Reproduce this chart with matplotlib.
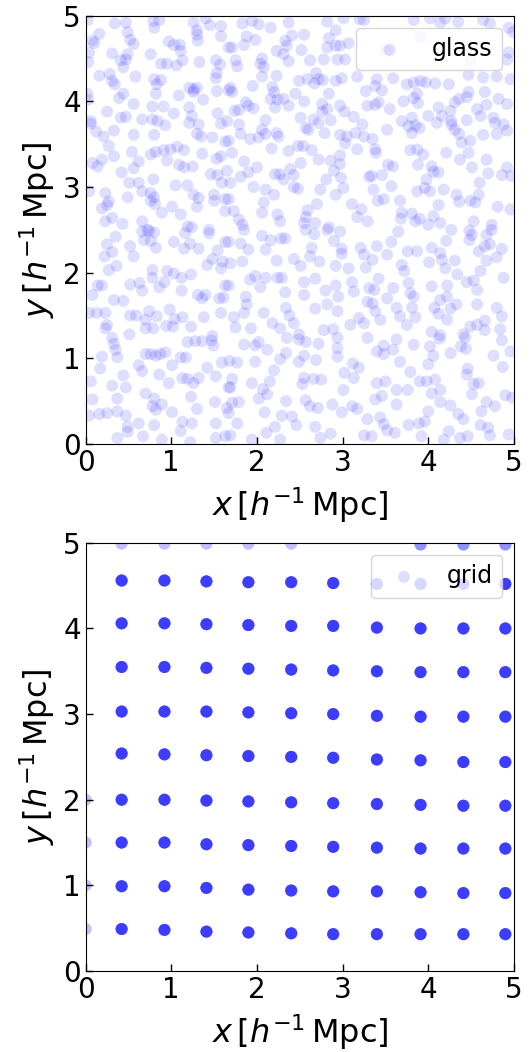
import numpy as np
import matplotlib.pyplot as plt

# glass particle positions (x, y) in h^-1 Mpc
glass_xy = [
    (0.02, 4.95), (0.34, 4.91), (0.47, 4.92), (0.79, 4.94), (0.86, 4.95), (0.80, 4.86),
    (1.26, 4.92), (1.40, 4.97), (1.45, 4.89), (1.58, 4.88), (0.16, 4.79), (0.49, 4.81),
    (1.30, 4.83), (1.30, 4.78), (1.58, 4.76), (0.08, 4.71), (0.10, 4.68), (0.52, 4.72),
    (0.56, 4.67), (0.97, 4.70), (1.03, 4.66), (1.10, 4.66), (1.31, 4.71), (1.67, 4.63),
    (0.04, 4.57), (0.31, 4.56), (0.49, 4.55), (0.47, 4.49), (0.76, 4.55), (1.11, 4.59),
    (0.03, 4.46), (0.41, 4.48), (0.88, 4.44), (0.95, 4.44), (1.06, 4.42), (1.13, 4.48),
    (1.33, 4.46), (1.52, 4.48), (1.57, 4.43), (0.44, 4.40), (0.16, 4.30), (0.28, 4.32),
    (0.58, 4.29), (0.80, 4.26), (0.83, 4.20), (0.88, 4.25), (0.31, 4.24), (0.34, 4.20),
    (1.53, 4.33), (1.52, 4.27), (1.21, 4.16), (1.26, 4.14), (1.30, 4.16), (1.26, 4.11),
    (0.82, 4.09), (0.44, 4.09), (0.39, 4.04), (1.09, 4.07), (1.37, 4.02), (1.53, 4.12),
    (0.02, 4.09), (0.03, 4.02), (1.67, 4.13), (0.56, 3.97), (0.78, 3.94), (0.91, 3.94),
    (1.21, 3.93), (0.25, 3.88), (1.03, 3.86), (1.54, 3.86), (0.41, 3.81), (0.47, 3.82),
    (0.66, 3.79), (0.78, 3.79), (0.84, 3.77), (1.24, 3.83), (0.06, 3.77), (1.65, 3.77),
    (1.83, 4.91), (1.94, 4.94), (2.02, 4.90), (2.16, 4.86), (2.37, 4.92), (2.82, 4.93),
    (3.01, 4.97), (3.20, 4.96), (3.25, 4.95), (2.55, 4.78), (2.41, 4.77), (2.33, 4.71),
    (2.35, 4.65), (1.88, 4.76), (1.85, 4.66), (1.98, 4.72), (1.71, 4.63), (2.92, 4.83),
    (2.84, 4.74), (2.82, 4.63), (2.92, 4.65), (2.97, 4.65), (3.07, 4.68), (2.52, 4.60),
    (2.23, 4.59), (2.31, 4.55), (2.37, 4.47), (2.06, 4.50), (2.04, 4.44), (2.08, 4.40),
    (1.75, 4.48), (1.77, 4.41), (2.62, 4.48), (2.78, 4.49), (3.03, 4.49), (2.94, 4.49),
    (2.69, 4.33), (2.72, 4.26), (2.59, 4.26), (2.49, 4.24), (2.67, 4.21), (2.77, 4.25),
    (2.23, 4.30), (2.06, 4.29), (2.92, 4.24), (2.99, 4.27), (3.17, 4.29), (1.95, 4.18),
    (1.69, 4.16), (1.71, 4.11), (2.18, 4.17), (2.20, 4.11), (2.45, 4.09), (2.84, 4.09),
    (3.27, 4.12), (2.16, 4.03), (2.24, 4.02), (2.31, 4.03), (2.21, 3.93), (2.55, 4.00),
    (1.87, 3.99), (1.90, 3.95), (2.76, 3.97), (2.82, 3.91), (2.76, 3.88), (2.97, 3.95),
    (3.02, 3.88), (3.29, 3.95), (1.74, 3.89), (1.79, 3.90), (1.96, 3.92), (2.37, 3.95),
    (2.66, 3.79), (2.51, 3.81), (2.86, 3.78), (3.13, 3.82), (2.10, 3.78),
    (3.83, 4.95), (4.02, 4.97), (4.20, 4.97), (4.14, 4.92), (4.35, 4.93), (4.64, 4.95),
    (4.72, 4.91), (4.94, 4.86), (4.99, 4.81), (3.50, 4.59), (3.91, 4.75), (4.49, 4.48),
    (4.94, 4.57), (4.92, 4.49), (3.40, 4.26), (3.38, 4.18), (3.46, 4.13), (3.59, 4.27),
    (3.75, 4.20), (3.83, 4.22), (3.91, 4.24), (3.97, 4.22), (4.08, 4.21), (4.24, 4.20),
    (4.47, 4.31), (4.64, 4.28), (4.80, 4.29), (4.96, 4.26), (4.47, 4.11), (4.36, 4.03),
    (4.31, 3.99), (4.45, 4.05), (4.66, 4.11), (4.82, 4.03), (3.87, 4.09), (3.83, 4.04),
    (3.71, 4.00), (3.42, 3.99), (3.38, 3.96), (3.55, 3.91), (3.88, 3.98), (4.12, 3.93),
    (4.26, 3.89), (4.57, 3.91), (4.68, 3.96), (4.92, 3.97), (3.81, 3.81), (4.00, 3.83),
    (4.16, 3.83), (4.27, 3.77), (4.45, 3.78), (4.61, 3.83), (4.76, 3.81), (3.69, 3.77),
    (0.06, 3.74), (0.93, 3.72), (1.21, 3.75), (1.32, 3.73), (1.58, 3.74), (0.12, 3.65),
    (0.21, 3.59), (0.33, 3.66), (0.56, 3.61), (0.80, 3.61), (1.30, 3.62), (1.35, 3.59),
    (1.48, 3.58), (0.27, 3.48), (1.63, 3.53), (0.54, 3.41), (0.76, 3.38), (0.82, 3.41),
    (0.91, 3.43), (0.99, 3.44), (1.07, 3.47), (1.15, 3.43), (0.95, 3.31), (1.36, 3.39),
    (0.33, 3.36), (0.19, 3.32), (0.08, 3.28), (0.14, 3.24), (0.62, 3.30), (0.56, 3.22),
    (1.09, 3.26), (1.15, 3.23), (1.25, 3.24), (1.58, 3.36), (1.53, 3.33), (0.42, 3.17),
    (0.51, 3.05), (0.62, 3.05), (0.79, 3.09), (1.05, 3.02), (1.19, 3.02), (1.46, 3.15),
    (1.54, 3.14), (1.59, 3.05), (1.65, 3.19), (0.04, 2.95), (0.23, 2.93), (0.27, 2.83),
    (0.25, 2.79), (0.49, 2.88), (0.66, 2.95), (0.76, 2.93), (0.80, 2.88), (0.76, 2.84),
    (0.81, 2.80), (1.26, 2.91), (1.32, 2.87), (1.50, 2.91), (0.19, 2.75), (0.89, 2.70),
    (1.01, 2.77), (1.11, 2.68), (1.30, 2.77), (1.50, 2.84), (1.63, 2.86), (1.63, 2.72),
    (0.23, 2.60), (0.31, 2.64), (0.43, 2.57), (0.66, 2.60), (0.72, 2.50), (1.19, 2.54),
    (1.24, 2.53), (1.44, 2.50),
    (1.79, 3.73), (1.81, 3.62), (2.06, 3.67), (2.10, 3.62), (2.23, 3.63), (2.25, 3.59),
    (2.57, 3.69), (2.60, 3.67), (2.72, 3.75), (2.79, 3.63), (2.97, 3.61), (3.05, 3.59),
    (3.15, 3.63), (3.25, 3.59), (3.23, 3.73), (1.92, 3.56), (2.02, 3.58), (1.67, 3.54),
    (2.17, 3.45), (2.37, 3.42), (2.48, 3.48), (2.54, 3.48), (2.64, 3.43), (3.03, 3.51),
    (3.17, 3.44), (1.71, 3.40), (1.85, 3.30), (2.00, 3.23), (2.21, 3.15), (2.27, 3.15),
    (2.31, 3.09), (2.39, 3.21), (2.43, 3.14), (2.51, 3.28), (2.72, 3.32), (2.86, 3.31),
    (2.97, 3.37), (2.97, 3.27), (2.90, 3.19), (2.81, 3.09), (2.98, 3.11), (3.01, 2.99),
    (3.31, 3.12), (1.81, 3.12), (1.90, 3.17), (1.69, 3.05), (1.96, 3.00), (2.10, 2.97),
    (2.20, 2.91), (2.43, 3.00), (2.48, 2.98), (2.74, 2.97), (2.92, 2.91), (2.08, 2.82),
    (1.67, 2.86), (2.24, 2.68), (2.06, 2.70), (2.59, 2.73), (2.57, 2.65), (2.70, 2.80),
    (3.11, 2.80), (3.22, 2.74), (3.17, 2.65), (1.73, 2.72), (1.79, 2.62), (1.83, 2.56),
    (2.55, 2.58), (2.68, 2.58), (2.84, 2.53), (3.29, 2.60), (2.27, 2.60),
    (3.52, 3.67), (3.77, 3.71), (3.81, 3.63), (3.85, 3.72), (3.90, 3.69), (4.10, 3.75),
    (4.27, 3.73), (4.31, 3.67), (4.36, 3.62), (4.78, 3.75), (4.88, 3.73), (4.80, 3.62),
    (4.64, 3.61), (4.92, 3.66), (3.35, 3.56), (3.38, 3.44), (3.39, 3.40), (3.79, 3.43),
    (3.87, 3.44), (3.94, 3.38), (4.21, 3.40), (4.39, 3.52), (4.49, 3.54), (4.47, 3.40),
    (4.37, 3.32), (4.68, 3.32), (3.53, 3.26), (3.59, 3.24), (3.88, 3.26), (4.04, 3.24),
    (4.06, 3.18), (4.12, 3.17), (4.51, 3.23), (4.92, 3.23), (4.97, 3.13), (4.70, 3.16),
    (4.86, 3.14), (3.34, 3.13), (3.46, 3.14), (3.57, 3.01), (3.36, 2.97), (3.98, 3.09),
    (3.96, 2.99), (3.87, 2.95), (4.02, 2.95), (4.18, 2.97), (4.60, 3.05), (3.48, 2.86),
    (3.41, 2.84), (3.67, 2.84), (4.12, 2.79), (4.33, 2.91), (4.36, 2.83), (4.49, 2.84),
    (4.55, 2.82), (4.59, 2.91), (4.81, 2.77), (4.96, 2.74), (3.69, 2.70), (3.68, 2.63),
    (3.81, 2.69), (3.90, 2.63), (3.85, 2.60), (4.06, 2.66), (4.00, 2.56), (4.14, 2.58),
    (4.53, 2.60), (4.74, 2.56),
    (0.66, 2.48), (0.74, 2.49), (0.80, 2.47), (0.68, 2.38), (0.76, 2.37), (0.82, 2.29),
    (0.35, 2.42), (0.25, 2.33), (0.22, 2.19), (0.31, 2.24), (0.52, 2.31), (0.56, 2.19),
    (1.03, 2.36), (1.16, 2.46), (1.22, 2.34), (1.15, 2.28), (1.32, 2.28), (1.44, 2.46),
    (1.63, 2.36), (1.54, 2.26), (1.48, 2.16), (1.42, 2.09), (1.60, 2.13), (1.58, 2.05),
    (0.27, 2.03), (0.36, 2.08), (0.78, 2.03), (0.78, 1.94), (0.95, 2.02), (1.03, 1.99),
    (1.12, 1.94), (1.23, 1.98), (0.14, 1.85), (0.19, 1.85), (0.08, 1.74), (0.52, 1.86),
    (0.63, 1.88), (0.66, 1.79), (0.86, 1.83), (0.92, 1.89), (1.12, 1.79), (1.31, 1.74),
    (1.36, 1.70), (1.40, 1.74), (1.56, 1.70), (1.61, 1.71), (1.63, 1.85), (0.33, 1.68),
    (0.44, 1.67), (0.04, 1.53), (0.13, 1.53), (0.23, 1.53), (0.52, 1.50), (0.59, 1.50),
    (0.70, 1.45), (0.74, 1.55), (0.83, 1.49), (0.98, 1.57), (1.04, 1.46), (1.13, 1.48),
    (0.94, 1.38), (1.02, 1.37), (1.38, 1.48), (1.58, 1.53), (0.25, 1.39), (0.23, 1.35),
    (0.70, 1.35), (0.79, 1.35), (0.51, 1.28), (1.23, 1.37), (1.48, 1.26),
    (1.85, 2.50), (2.06, 2.43), (2.16, 2.38), (2.28, 2.40), (2.33, 2.40), (2.57, 2.50),
    (2.67, 2.45), (2.82, 2.50), (2.97, 2.48), (1.67, 2.36), (1.81, 2.34), (1.90, 2.27),
    (2.10, 2.27), (2.64, 2.29), (2.62, 2.19), (2.73, 2.13), (2.90, 2.37), (2.99, 2.28),
    (2.99, 2.22), (3.21, 2.29), (3.25, 2.21), (1.69, 2.11), (1.83, 2.13), (2.23, 2.14),
    (2.43, 2.16), (2.51, 2.08), (2.92, 2.08), (3.07, 2.05), (3.27, 2.06), (1.98, 1.96),
    (1.92, 1.92), (2.10, 1.94), (2.24, 1.94), (2.29, 1.94), (2.55, 1.89), (2.68, 1.93),
    (2.04, 1.83), (2.33, 1.77), (2.80, 1.79), (2.92, 1.85), (3.11, 1.89), (3.13, 1.78),
    (3.31, 1.82), (1.67, 1.85), (1.87, 1.72), (1.88, 1.63), (2.55, 1.74), (2.82, 1.63),
    (2.95, 1.72), (3.29, 1.66), (2.34, 1.59), (2.38, 1.50), (2.43, 1.41), (2.08, 1.53),
    (1.85, 1.53), (1.73, 1.48), (2.68, 1.58), (2.94, 1.55), (3.19, 1.47), (3.25, 1.41),
    (3.09, 1.39), (1.75, 1.36), (1.93, 1.35), (2.18, 1.41), (2.27, 1.35), (2.49, 1.28),
    (2.78, 1.33), (2.89, 1.34),
    (3.65, 2.48), (4.27, 2.50), (4.48, 2.49), (4.51, 2.44), (4.68, 2.44), (4.74, 2.50),
    (3.40, 2.31), (3.57, 2.36), (3.52, 2.21), (3.76, 2.25), (3.87, 2.25), (4.04, 2.29),
    (4.14, 2.23), (4.16, 2.15), (4.21, 2.37), (4.48, 2.38), (4.59, 2.25), (4.66, 2.31),
    (4.72, 2.33), (4.86, 2.28), (3.35, 2.15), (3.69, 2.09), (3.72, 2.02), (4.01, 2.12),
    (4.20, 2.05), (4.31, 2.14), (4.68, 2.14), (4.80, 2.18), (4.61, 2.02), (4.34, 1.98),
    (3.42, 1.93), (3.37, 1.80), (3.59, 1.82), (3.52, 1.70), (3.77, 1.88), (3.79, 1.76),
    (3.83, 1.72), (4.04, 1.84), (4.22, 1.85), (4.14, 1.68), (4.22, 1.72), (4.45, 1.89),
    (4.53, 1.91), (4.57, 1.80), (4.88, 1.94), (3.35, 1.64), (3.38, 1.55), (3.63, 1.59),
    (3.81, 1.59), (4.07, 1.59), (4.12, 1.52), (4.26, 1.58), (4.33, 1.63), (4.57, 1.63),
    (4.80, 1.59), (4.86, 1.49), (3.67, 1.49), (3.85, 1.48), (3.44, 1.45), (4.22, 1.45),
    (3.75, 1.39), (4.49, 1.37), (4.57, 1.39), (4.66, 1.44), (4.66, 1.33), (4.84, 1.34),
    (4.04, 1.31), (4.14, 1.27), (4.41, 1.28),
    (0.31, 1.24), (0.33, 1.17), (0.35, 1.10), (0.37, 1.01), (0.19, 1.02), (0.17, 0.88),
    (0.70, 1.05), (0.76, 1.05), (0.82, 1.03), (0.87, 1.05), (0.93, 1.07), (1.19, 1.19),
    (1.28, 1.20), (1.36, 1.20), (1.47, 1.21), (1.49, 1.15), (1.11, 1.01), (1.17, 1.01),
    (0.62, 0.92), (0.66, 0.85), (0.86, 0.81), (1.01, 0.92), (1.42, 0.89), (1.59, 0.95),
    (0.06, 0.73), (0.31, 0.68), (0.44, 0.80), (0.47, 0.66), (0.97, 0.71), (1.13, 0.77),
    (1.19, 0.76), (1.26, 0.71), (1.32, 0.77), (1.52, 0.79), (1.67, 0.66), (0.08, 0.52),
    (0.37, 0.53), (0.70, 0.59), (0.80, 0.53), (0.78, 0.44), (0.82, 0.40), (0.89, 0.46),
    (1.01, 0.37), (1.23, 0.55), (1.30, 0.41), (1.51, 0.49), (1.65, 0.42), (0.04, 0.33),
    (0.16, 0.35), (0.25, 0.36), (0.37, 0.38), (0.47, 0.33), (0.62, 0.24), (0.80, 0.22),
    (1.13, 0.26), (1.24, 0.24), (1.11, 0.15), (1.52, 0.24), (0.49, 0.20), (0.49, 0.14),
    (0.37, 0.07), (0.67, 0.09), (0.89, 0.05), (1.22, 0.02), (1.52, 0.07), (1.63, 0.09),
    (1.85, 1.16), (1.98, 1.15), (2.02, 1.19), (2.12, 1.10), (2.35, 1.24), (2.49, 1.22),
    (2.57, 1.19), (2.72, 1.17), (2.94, 1.24), (2.94, 1.12), (3.29, 1.24), (1.68, 0.97),
    (1.77, 0.95), (1.98, 0.96), (2.27, 0.99), (2.34, 1.06), (2.55, 1.03), (2.49, 0.96),
    (2.69, 0.98), (2.94, 1.02), (2.20, 0.86), (3.02, 0.83), (3.12, 0.94), (3.19, 0.89),
    (3.13, 0.77), (1.71, 0.76), (1.69, 0.66), (1.94, 0.71), (2.15, 0.73), (2.07, 0.64),
    (2.12, 0.58), (2.02, 0.53), (2.55, 0.77), (2.53, 0.70), (2.66, 0.76), (2.75, 0.75),
    (3.01, 0.63), (1.71, 0.48), (1.79, 0.49), (1.67, 0.36), (2.34, 0.50), (2.57, 0.51),
    (2.62, 0.44), (2.71, 0.42), (2.88, 0.46), (2.99, 0.37), (3.11, 0.44), (3.17, 0.41),
    (2.09, 0.37), (2.29, 0.33), (2.41, 0.32), (2.46, 0.22), (1.77, 0.24), (2.21, 0.20),
    (2.11, 0.13), (1.94, 0.05), (2.68, 0.20), (2.86, 0.12), (3.29, 0.29), (3.25, 0.10),
    (1.69, 0.10), (2.27, 0.05), (2.74, 0.07),
    (3.48, 1.15), (3.40, 1.08), (3.48, 1.05), (3.59, 1.10), (3.63, 1.22), (3.83, 1.16),
    (4.02, 1.14), (4.13, 1.23), (4.26, 1.06), (4.43, 1.24), (4.38, 1.14), (4.44, 1.11),
    (4.86, 1.21), (4.96, 1.08), (4.76, 1.03), (3.67, 0.96), (4.00, 0.93), (4.06, 1.03),
    (4.46, 0.88), (4.45, 0.81), (3.79, 0.84), (4.87, 0.90), (3.40, 0.71), (3.50, 0.73),
    (3.63, 0.63), (3.76, 0.63), (3.90, 0.73), (3.98, 0.73), (4.08, 0.75), (4.14, 0.63),
    (4.04, 0.59), (4.53, 0.70), (4.59, 0.71), (4.51, 0.58), (3.38, 0.52), (3.46, 0.56),
    (3.63, 0.46), (4.14, 0.49), (4.26, 0.45), (4.68, 0.49), (4.78, 0.44), (4.62, 0.38),
    (4.90, 0.57), (4.98, 0.54), (4.00, 0.38), (4.35, 0.35), (4.41, 0.29), (3.44, 0.31),
    (3.48, 0.23), (3.52, 0.16), (3.77, 0.22), (3.89, 0.24), (3.96, 0.26), (4.24, 0.15),
    (4.61, 0.22), (4.70, 0.19), (4.72, 0.10), (4.94, 0.11), (3.61, 0.13), (3.92, 0.09),
    (4.18, 0.05), (4.37, 0.07), (4.46, 0.09), (3.34, 0.09),
]

# grid: centre of each projected column of particles, and how many are stacked there
grid_cols = [0.00, 0.42, 0.92, 1.41, 1.90, 2.40, 2.89, 3.40, 3.91, 4.41, 4.90]
grid_rows = {
    0.00: [0.49, 1.00, 1.50, 2.00],
    0.42: [0.49, 0.99, 1.50, 2.00, 2.54, 3.03, 3.55, 4.06, 4.56, 4.99],
    0.92: [0.48, 0.99, 1.50, 2.00, 2.53, 3.03, 3.55, 4.06, 4.56, 4.99],
    1.41: [0.46, 0.97, 1.48, 1.99, 2.52, 3.03, 3.54, 4.05, 4.55, 4.99],
    1.90: [0.45, 0.95, 1.47, 1.98, 2.51, 3.02, 3.53, 4.04, 4.54, 4.99],
    2.40: [0.44, 0.94, 1.46, 1.97, 2.50, 3.01, 3.52, 4.03, 4.54, 4.99],
    2.89: [0.43, 0.93, 1.45, 1.96, 2.49, 3.00, 3.51, 4.03, 4.53],
    3.40: [0.43, 0.93, 1.44, 1.95, 2.47, 2.98, 3.50, 4.01, 4.52],
    3.91: [0.43, 0.92, 1.43, 1.94, 2.46, 2.97, 3.49, 4.00, 4.52, 4.98],
    4.41: [0.43, 0.91, 1.43, 1.93, 2.44, 2.97, 3.49, 4.00, 4.52, 4.98],
    4.90: [0.43, 0.91, 1.43, 1.93, 2.44, 2.97, 3.49, 4.00, 4.52, 4.98],
}
# particles stacked along the line of sight: full columns, wrapped left edge,
# faint top row on the left half, denser top row on the right
grid_n_full = 10
grid_n_left = 2
grid_n_top_left = 2
grid_n_top_right = 4

glass_x = [p[0] for p in glass_xy]
glass_y = [p[1] for p in glass_xy]

gx, gy = [], []
for cx in grid_cols:
    for cy in grid_rows[cx]:
        if cx == 0.00:
            n = grid_n_left
        elif cy > 4.9:
            n = grid_n_top_right if cx > 3.5 else grid_n_top_left
        else:
            n = grid_n_full
        gx += [cx] * n
        gy += [cy] * n

fig = plt.figure(figsize=(5.32, 10.52), dpi=100)
ax1 = fig.add_axes([0.161, 0.578, 0.805, 0.407])
ax2 = fig.add_axes([0.161, 0.077, 0.805, 0.407])

ax1.scatter(glass_x, glass_y, s=75, color='blue', alpha=0.13, edgecolors='none', label='glass')
ax2.scatter(gx, gy, s=75, color='blue', alpha=0.13, edgecolors='none', label='grid')

for ax in (ax1, ax2):
    ax.set_xlim(0, 5)
    ax.set_ylim(0, 5)
    ax.set_xticks([0, 1, 2, 3, 4, 5])
    ax.set_yticks([0, 1, 2, 3, 4, 5])
    ax.tick_params(direction='in', labelsize=20, length=5, width=1)
    ax.set_xlabel(r'$x\,[h^{-1}\,\mathrm{Mpc}]$', fontsize=23, labelpad=6)
    ax.set_ylabel(r'$y\,[h^{-1}\,\mathrm{Mpc}]$', fontsize=23)
    ax.legend(loc='upper right', fontsize=17)

fig.savefig('out.png', dpi=100)
